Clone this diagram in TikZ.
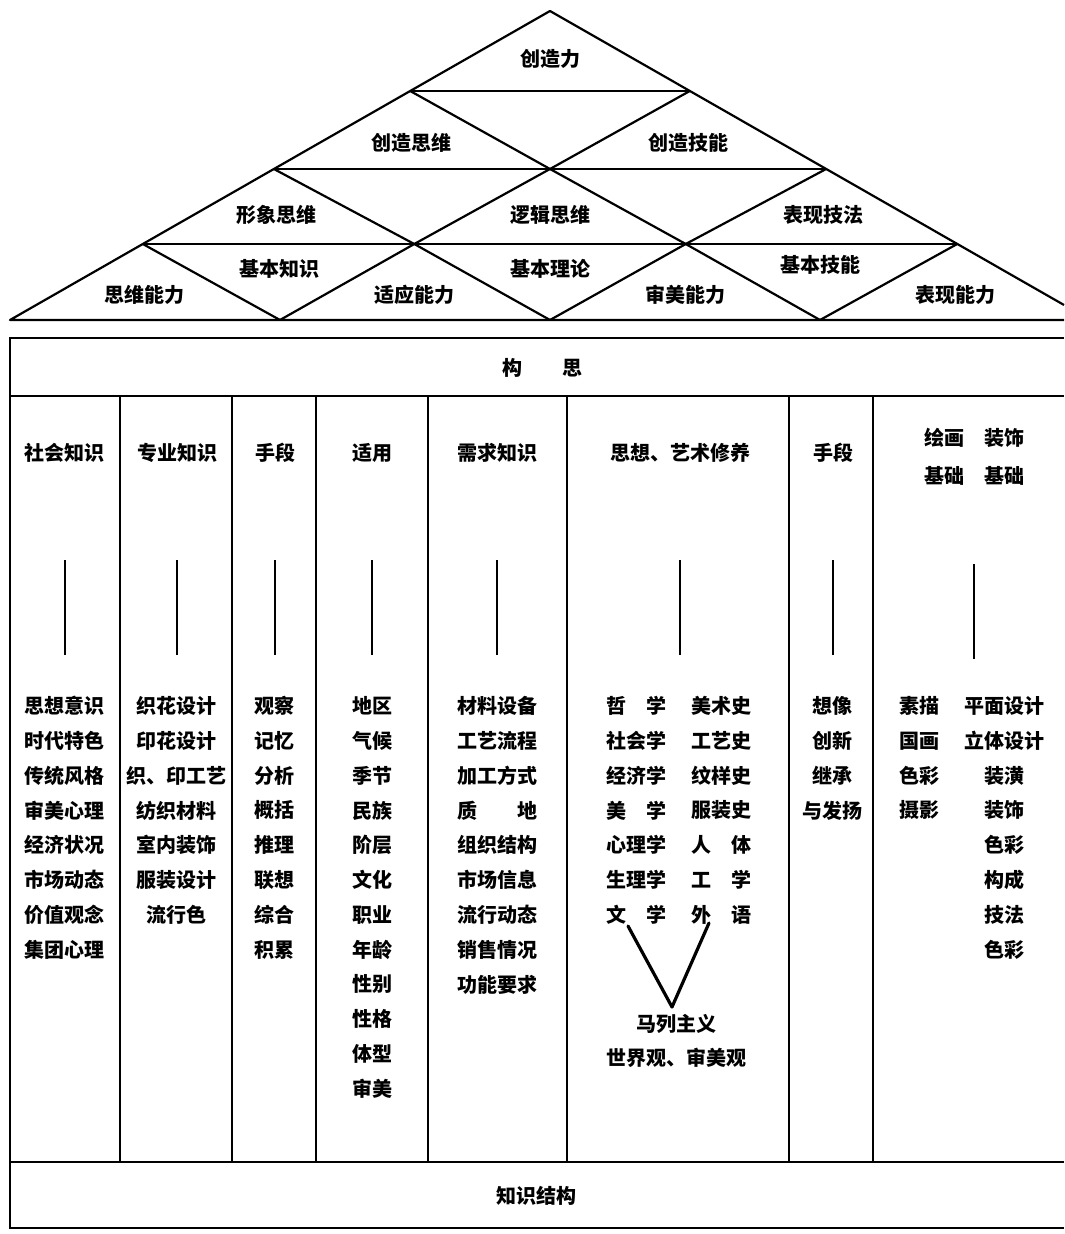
\documentclass[tikz,border=0pt]{standalone}
\usepackage{fontspec}
\newfontfamily\cjk{Noto Sans CJK SC}
\usetikzlibrary{calc}

\tikzset{
  lbl/.style={font={\cjk\bfseries\fontsize{10}{12}\selectfont}, inner sep=0pt},
  pyr/.style={line width=1.1pt, line join=round},
  frame/.style={line width=0.9pt},
  stem/.style={line width=0.7pt},
  vee/.style={line width=1.6pt, line join=round, line cap=round},
}

\begin{document}
\begin{tikzpicture}[x=0.5pt, y=-0.5pt]
  \useasboundingbox (0,0) rectangle (1064,1234);

  % Pyramide : points de la grille
  \foreach \i/\yy in {0/11,1/91,2/169,3/244,4/320}{
    \foreach \j in {0,...,\i}{
      \pgfmathsetmacro\xx{550+1.7476*(\yy-11)*(2*\j-\i)/max(\i,1)}
      \coordinate (g\i\j) at (\xx,\yy);
    }
  }
  \coordinate (gR) at (1064,305);
  \coordinate (gB) at (1064,320);

  \draw[pyr] (gR) -- (g00) -- (g40) -- (gB);
  \draw[pyr] (g10) -- (g11) (g20) -- (g22) (g30) -- (g33);
  \draw[pyr] (g10) -- (g21) -- (g32) -- (g43);
  \draw[pyr] (g20) -- (g31) -- (g42);
  \draw[pyr] (g30) -- (g41);
  \draw[pyr] (g11) -- (g21) -- (g31) -- (g41);
  \draw[pyr] (g22) -- (g32) -- (g42);
  \draw[pyr] (g33) -- (g43);

  \node[lbl] (czl) at ($(barycentric cs:g00=1,g10=1,g11=1)+(0,-5)$) {创造力};
  \node[lbl] (czsw) at (barycentric cs:g10=1,g20=1,g21=1) {创造思维};
  \node[lbl] (czjn) at (barycentric cs:g11=1,g21=1,g22=1) {创造技能};
  \node[lbl] (xxsw) at ($(barycentric cs:g20=1,g30=1,g31=1)+(0,-4)$) {形象思维};
  \node[lbl] (ljsw) at ($(barycentric cs:g21=1,g31=1,g32=1)+(0,-4)$) {逻辑思维};
  \node[lbl] (bxjf) at ($(barycentric cs:g22=1,g32=1,g33=1)+(0,-4)$) {表现技法};
  \node[lbl] (swnl) at (barycentric cs:g30=1,g40=1,g41=1) {思维能力};
  \node[lbl] (jbzs) at (barycentric cs:g30=1,g31=1,g41=1) {基本知识};
  \node[lbl] (synl) at (barycentric cs:g31=1,g41=1,g42=1) {适应能力};
  \node[lbl] (jbll) at (barycentric cs:g31=1,g32=1,g42=1) {基本理论};
  \node[lbl] (smnl) at (barycentric cs:g32=1,g42=1,g43=1) {审美能力};
  \node[lbl] (jbjn) at ($(barycentric cs:g32=1,g33=1,g43=1)+(0,-4)$) {基本技能};
  \node[lbl] (bxnl) at (barycentric cs:g33=1,g43=1,g44=1) {表现能力};

  % Cadre du bas
  \draw[frame] (1064,338) -- (10,338) -- (10,1228) -- (1064,1228);
  \draw[frame] (10,396) -- (1064,396) (10,1162) -- (1064,1162);
  \foreach \x in {120,232,316,428,567,789,873}
    \draw[frame] (\x,396) -- (\x,1162);

  \node[lbl] (gs) at (542,368) {构　　思};
  \node[lbl] (zsjg) at (536,1196) {知识结构};

  % En-tetes des colonnes
  \node[lbl] (hd1) at (65,453) {社会知识};
  \node[lbl] (hd2) at (177,453) {专业知识};
  \node[lbl] (hd3) at (275,453) {手段};
  \node[lbl] (hd4) at (372,453) {适用};
  \node[lbl] (hd5) at (497,453) {需求知识};
  \node[lbl] (hd6) at (680,453) {思想、艺术修养};
  \node[lbl] (hd7) at (833,453) {手段};
  \node[lbl, align=center, font={\cjk\bfseries\fontsize{10}{19}\selectfont}]
    (hd8) at (974,457) {绘画　装饰\\基础　基础};

  \foreach \c in {1,...,8}
    \draw[stem] (hd\c) ++(0,107) -- ++(0,95);

  % Listes
  \foreach \t [count=\k] in {思想意识,时代特色,传统风格,审美心理,经济状况,市场动态,价值观念,集团心理}
    \node[lbl] (sh\k) at (65,{706+34.8*(\k-1)}) {\t};
  \foreach \t [count=\k] in {织花设计,印花设计,织、印工艺,纺织材料,室内装饰,服装设计,流行色}
    \node[lbl] (zy\k) at (176,{706+34.8*(\k-1)}) {\t};
  \foreach \t [count=\k] in {观察,记忆,分析,概括,推理,联想,综合,积累}
    \node[lbl] (sd\k) at (274,{706+34.8*(\k-1)}) {\t};
  \foreach \t [count=\k] in {地区,气候,季节,民族,阶层,文化,职业,年龄,性别,性格,体型,审美}
    \node[lbl] (sy\k) at (372,{706+34.8*(\k-1)}) {\t};
  \foreach \t [count=\k] in {材料设备,工艺流程,加工方式,质　　地,组织结构,市场信息,流行动态,销售情况,功能要求}
    \node[lbl] (xq\k) at (497,{706+34.8*(\k-1)}) {\t};
  \foreach \t [count=\k] in {哲　学,社会学,经济学,美　学,心理学,生理学,文　学}
    \node[lbl] (sx\k) at (636,{706+34.8*(\k-1)}) {\t};
  \foreach \t [count=\k] in {美术史,工艺史,纹样史,服装史,人　体,工　学,外　语}
    \node[lbl] (ys\k) at (721,{706+34.8*(\k-1)}) {\t};
  \foreach \t [count=\k] in {想像,创新,继承,与发扬}
    \node[lbl] (cx\k) at (832,{706+34.8*(\k-1)}) {\t};
  \foreach \t [count=\k] in {素描,国画,色彩,摄影}
    \node[lbl] (hh\k) at (919,{706+34.8*(\k-1)}) {\t};
  \foreach \t [count=\k] in {平面设计,立体设计,装潢,装饰,色彩,构成,技法,色彩}
    \node[lbl] (zs\k) at (1004,{706+34.8*(\k-1)}) {\t};

  % Marxisme
  \node[lbl] (mlzy) at (676,1024) {马列主义};
  \node[lbl] (sjg) at (676,1058) {世界观、审美观};
  \coordinate (vl) at (628,926);
  \coordinate (vr) at (709,923);
  \coordinate (vb) at (672,1007);
  \draw[vee] (vl) -- (vb) -- (vr);
\end{tikzpicture}
\end{document}
